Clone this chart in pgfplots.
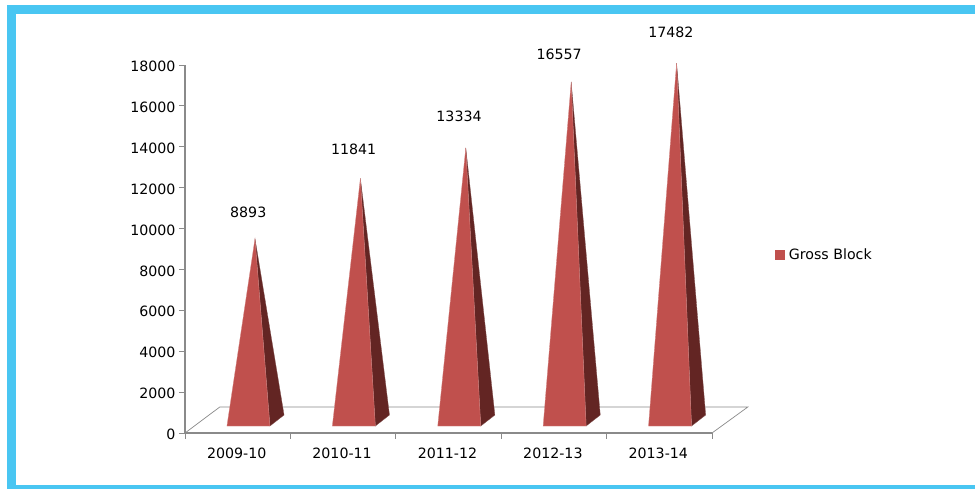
\documentclass[border=0pt]{standalone}
\usepackage{pgfplots}
\pgfplotsset{compat=1.18}
\usepackage{fontspec}
\setmainfont{DejaVu Sans}
\definecolor{frameblue}{HTML}{49C6F2}
\definecolor{front}{HTML}{C0504D}
\definecolor{side}{HTML}{632523}
\definecolor{axisgray}{HTML}{8A8A8A}
\pgfplotsset{
  front face/.style={fill=front,draw=front!70!white,line width=0.3pt,forget plot,yshift=12.5pt},
  side face/.style={fill=side,draw=side!80!white,line width=0.3pt,forget plot,yshift=12.5pt},
}
\begin{document}
\begin{tikzpicture}[x=1pt,y=1pt,font=\fontsize{14.2}{17}\selectfont]
\useasboundingbox (0,0) rectangle (975,489);
\fill[white] (0,0) rectangle (975,489);
\fill[frameblue] (7,0) rectangle (975,4);
\fill[frameblue] (7,0) rectangle (16,484);
\fill[frameblue] (7,475) rectangle (975,484);
\begin{axis}[
  at={(185pt,56pt)},anchor=south west,
  scale only axis,width=527pt,height=368pt,
  xmin=0,xmax=5,ymin=0,ymax=18000,
  clip=false,
  axis lines=left,
  axis line style={-,draw=axisgray,line width=1.3pt},
  tick style={draw=axisgray,line width=0.9pt},
  tick align=outside,
  major tick length=6pt,
  xtick={0,1,2,3,4,5},
  x tick label as interval=true,
  xticklabels={2009-10,2010-11,2011-12,2012-13,2013-14},
  ytick={0,2000,4000,6000,8000,10000,12000,14000,16000,18000},
  /pgf/number format/assume math mode=true,
  /pgf/number format/set thousands separator={},
  scaled y ticks=false,
  xticklabel style={yshift=-5.5pt,xshift=-1pt},
  yticklabel style={xshift=0pt,yshift=-1.5pt},
  legend style={at={(1.115,0.484)},anchor=west,draw=none,fill=none,
    legend cell align=left,inner sep=2pt},
]
% floor of the 3D plot
\addplot[draw=axisgray,line width=0.7pt,forget plot] coordinates {(0,0) (0.33,1272) (5.34,1272) (5,0)};

% pyramids: apex at the value of the series
\addplot[side face] coordinates {(0.806,-270) (0.94,268) (0.664,8893)} --cycle;
\addplot[front face] coordinates {(0.398,-270) (0.806,-270) (0.664,8893)} --cycle;

\addplot[side face] coordinates {(1.806,-270) (1.94,268) (1.664,11841)} --cycle;
\addplot[front face] coordinates {(1.398,-270) (1.806,-270) (1.664,11841)} --cycle;

\addplot[side face] coordinates {(2.806,-270) (2.94,268) (2.664,13334)} --cycle;
\addplot[front face] coordinates {(2.398,-270) (2.806,-270) (2.664,13334)} --cycle;

\addplot[side face] coordinates {(3.806,-270) (3.94,268) (3.664,16557)} --cycle;
\addplot[front face] coordinates {(3.398,-270) (3.806,-270) (3.664,16557)} --cycle;

\addplot[side face] coordinates {(4.806,-270) (4.94,268) (4.664,17482)} --cycle;
\addplot[front face] coordinates {(4.398,-270) (4.806,-270) (4.664,17482)} --cycle;

% legend entry
\addplot[draw=none,fill=none,legend image code/.code={\fill[front] (0pt,-5pt) rectangle (10pt,5pt);}] coordinates {(0,0)};
\addlegendentry{\hspace{2pt}Gross Block}

% value labels
\node[yshift=38.5pt] at (axis cs:0.60,8893)  {8893};
\node[yshift=41.5pt] at (axis cs:1.60,11841) {11841};
\node[yshift=44.5pt] at (axis cs:2.60,13334) {13334};
\node[yshift=40.6pt] at (axis cs:3.55,16557) {16557};
\node[yshift=43.5pt] at (axis cs:4.61,17482) {17482};
\end{axis}
\end{tikzpicture}
\end{document}
